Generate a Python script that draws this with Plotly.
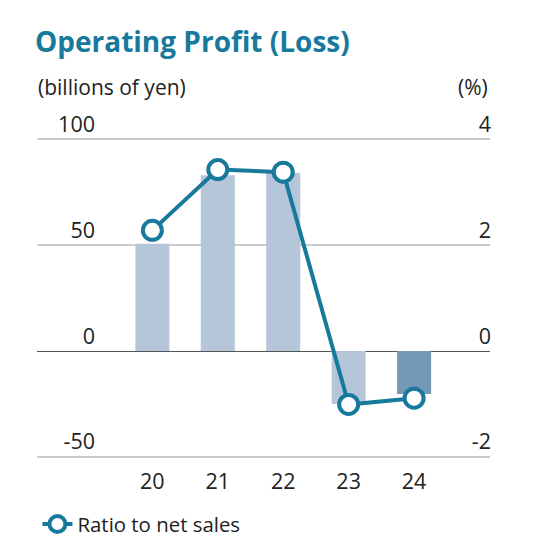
import plotly.graph_objects as go

# fiscal years (last two digits)
years = ["20", "21", "22", "23", "24"]
# operating profit (loss), billions of yen
profit = [50.7, 83.0, 84.1, -25.0, -20.3]
# ratio to net sales, %
ratio = [2.28, 3.43, 3.38, -1.01, -0.89]

bar_colors = ["#b4c6d7", "#b4c6d7", "#b4c6d7", "#b4c6d7", "#7499b8"]
teal = "#17799b"
ink = "#222222"
font = "Open Sans"

# page body adds 8px, so the figure is 8px smaller than the window
W, H = 527, 551
M_L, M_R = 28.5, 45
M_T, M_B = 89, 100.2
plot_h = H - M_T - M_B
plot_w = W - M_L - M_R


def paper_y(px):
    # pixel row from figure top -> paper coordinate
    return (H - M_B - px) / plot_h


fig = go.Figure()

fig.add_trace(go.Bar(
    x=years, y=profit,
    marker=dict(color=bar_colors, line=dict(width=0)),
    width=0.52,
    showlegend=False,
    hoverinfo="skip",
))

fig.add_trace(go.Scatter(
    x=years, y=ratio,
    yaxis="y2",
    mode="lines+markers",
    name="Ratio to net sales",
    line=dict(color=teal, width=4),
    marker=dict(size=19, color="white", line=dict(color=teal, width=4)),
))

fig.update_layout(
    width=W, height=H,
    margin=dict(l=M_L, r=M_R, t=M_T, b=M_B),
    paper_bgcolor="white", plot_bgcolor="white",
    font=dict(family=font, color=ink),
    title=dict(
        text="<b>Operating Profit (Loss)</b>",
        font=dict(size=28, color=teal, family=font),
        x=27 / W, xref="container", xanchor="left",
        y=1 - 33.7 / H, yref="container", yanchor="middle",
    ),
    xaxis=dict(
        type="category",
        range=[-1.763, 5.16],
        showgrid=False, showline=False, ticks="",
        ticklabelstandoff=7,
        tickfont=dict(size=21.5, color=ink),
        zeroline=False,
    ),
    yaxis=dict(
        range=[-51, 120],
        tickvals=[-50, 0, 50, 100],
        ticktext=["-50", "0", "50", "100"],
        showgrid=True, gridcolor="#cccccc", gridwidth=1.5,
        zeroline=True, zerolinecolor="#555555", zerolinewidth=1.2,
        ticks="", showline=False,
        ticklabelposition="outside top",
        ticklabelstandoff=-59,
        tickfont=dict(size=21.5, color=ink),
    ),
    yaxis2=dict(
        overlaying="y", side="right",
        range=[-2.04, 4.8],
        tickvals=[-2, 0, 2, 4],
        ticktext=["-2", "0", "2", "4"],
        showgrid=False, zeroline=False, ticks="", showline=False,
        ticklabelposition="inside top",
        ticklabelstandoff=-4,
        tickfont=dict(size=21.5, color=ink),
    ),
    legend=dict(
        x=0.001, y=paper_y(496), xanchor="left", yanchor="top",
        font=dict(size=20.4, color=ink),
        itemwidth=30, bgcolor="rgba(0,0,0,0)",
    ),
    annotations=[
        dict(text="(billions of yen)", x=27 / plot_w - M_L / plot_w, xref="paper",
             xanchor="left", y=paper_y(78.7), yref="paper", yanchor="middle",
             showarrow=False, font=dict(size=21, color=ink)),
        dict(text="(%)", x=1, xref="paper", xanchor="right",
             y=paper_y(78.7), yref="paper", yanchor="middle",
             showarrow=False, font=dict(size=21, color=ink)),
    ],
)

fig.write_html("out.html")
